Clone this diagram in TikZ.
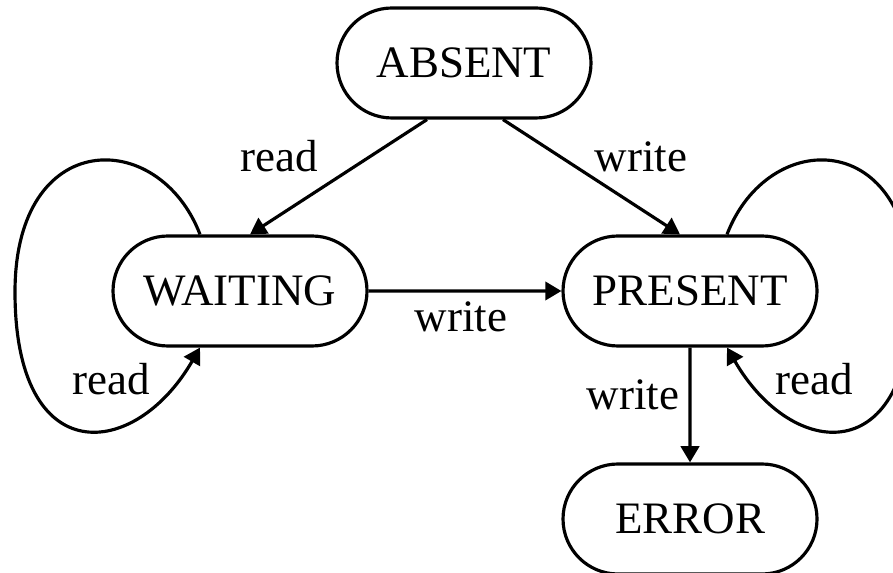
\documentclass[tikz,border=0pt]{standalone}
\usepackage{fontspec}
\setmainfont{Liberation Serif}
\usepackage{tikz}
\usetikzlibrary{shapes.misc, arrows.meta, positioning}
\tikzstyle{snode} = [rounded rectangle, draw, line width=0.9pt, minimum width=2.54cm, minimum height=1.1cm, inner sep=0pt, font=\fontsize{12.8}{15}\selectfont]
\tikzstyle{lbl} = [inner sep=0pt, anchor=base, font=\fontsize{12.8}{15}\selectfont]
\tikzstyle{line} = [draw, line width=0.9pt, -{Triangle[width=5.2pt, length=4.6pt]}]

\begin{document}
\begin{tikzpicture}
			\useasboundingbox (0, 0) rectangle (8.93, 5.72);
			\node [snode] (absent) at (4.64, 5.09) {ABSENT};
			\node [snode] (waiting) at (2.40, 2.81) {WAITING};
			\node [snode] (present) at (6.90, 2.81) {PRESENT};
			\node [snode] (error) at (6.90, 0.53) {ERROR};
			\coordinate (wl) at (0.15, 2.80);
			\coordinate (pr) at (9.12, 2.80);
			
			\path [line] ([xshift=-0.37cm]absent.south) -- ([xshift=0.10cm]waiting.north);
			\path [line] ([xshift=0.39cm]absent.south) -- ([xshift=-0.10cm]present.north);
			\path [line] (waiting) -- (present);
			\path [line] (present) -- (error);
			\path [line] ([xshift=-0.40cm]waiting.north) .. controls +(111:1.15) and +(90:1.65) .. (wl)
				.. controls +(-90:1.8) and +(240:1.3) .. ([xshift=-0.40cm]waiting.south);
			\path [line] ([xshift=0.37cm]present.north) .. controls +(69:1.15) and +(90:1.65) .. (pr)
				.. controls +(-90:1.8) and +(300:1.3) .. ([xshift=0.37cm]present.south);
			
			\node [lbl] (rd1) at (2.79, 4.00) {read};
			\node [lbl] (wr1) at (6.41, 4.00) {write};
			\node [lbl] (wr2) at (4.61, 2.40) {write};
			\node [lbl] (wr3) at (6.33, 1.62) {write};
			\node [lbl] (rd2) at (1.11, 1.77) {read};
			\node [lbl] (rd3) at (8.14, 1.77) {read};
		\end{tikzpicture}
\end{document}
